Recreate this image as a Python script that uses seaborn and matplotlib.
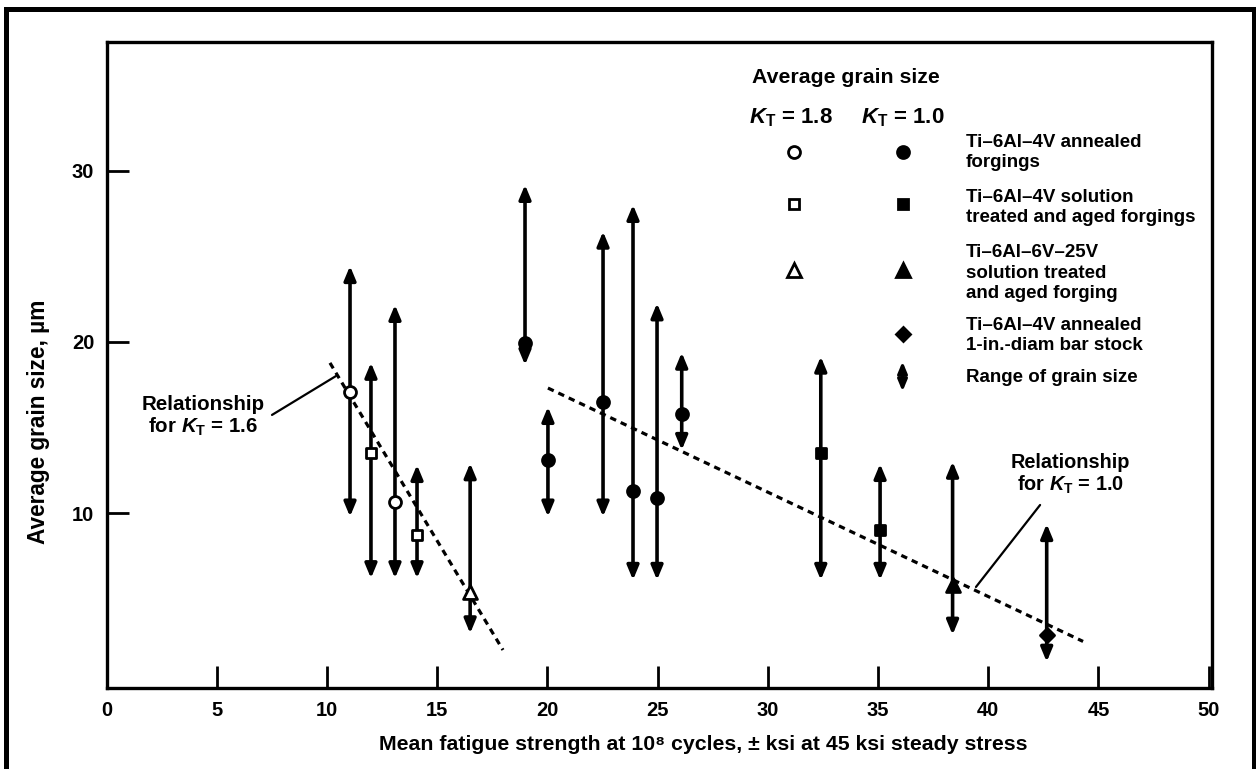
import numpy as np
import pandas as pd
import matplotlib
matplotlib.use("Agg")
import matplotlib.pyplot as plt
import seaborn as sns
from matplotlib.patches import Rectangle
from matplotlib.font_manager import fontManager

# ---------------- data ----------------
kt18_x = [11.04, 11.99, 13.08, 14.08, 16.49]
kt18_y = [17.09, 13.49, 10.66, 8.72, 5.40]
kt18_lo = [9.79, 6.19, 6.19, 6.19, 2.97]
kt18_hi = [24.43, 18.78, 22.16, 12.81, 12.91]
kt18_alloy = ["annealed", "sta", "annealed", "sta", "v25"]

kt10_x = [18.98, 20.02, 22.52, 23.88, 24.97, 26.09, 32.40, 35.09, 38.38, 42.65]
kt10_y = [19.94, 13.10, 16.50, 11.30, 10.86, 15.79, 13.49, 9.01, 5.80, 2.89]
kt10_lo = [18.65, 9.79, 9.79, 6.09, 6.09, 13.68, 6.09, 6.09, 2.89, 1.31]
kt10_hi = [29.17, 16.20, 26.44, 28.00, 22.25, 19.37, 19.14, 12.87, 13.00, 9.36]
kt10_alloy = ["annealed"] * 6 + ["sta", "sta", "v25", "bar"]

fit16_x = [10.13, 17.98]
fit16_y = [18.77, 2.00]
fit10_x = [20.02, 44.30]
fit10_y = [17.30, 2.50]

x_ticks = [0, 5, 10, 15, 20, 25, 30, 35, 40, 45, 50]
y_ticks = [10, 20, 30]

legend_labels = [
    "Ti\u20136Al\u20134V annealed\nforgings",
    "Ti\u20136Al\u20134V solution\ntreated and aged forgings",
    "Ti\u20136Al\u20136V\u201325V\nsolution treated\nand aged forging",
    "Ti\u20136Al\u20134V annealed\n1-in.-diam bar stock",
    "Range of grain size",
]

# ---------------- style ----------------
sns.set_theme(style="white")
names = {f.name for f in fontManager.ttflist}
fam = [f for f in ["Liberation Sans", "DejaVu Sans"] if f in names]
plt.rcParams["font.family"] = fam
plt.rcParams["font.weight"] = "bold"
plt.rcParams["text.color"] = "black"
plt.rcParams["axes.labelcolor"] = "black"
plt.rcParams["xtick.color"] = "black"
plt.rcParams["ytick.color"] = "black"
plt.rcParams["mathtext.fontset"] = "custom"
plt.rcParams["mathtext.rm"] = fam[0] + ":bold"
plt.rcParams["mathtext.it"] = fam[0] + ":italic:bold"
plt.rcParams["mathtext.bf"] = fam[0] + ":bold"

FS = 13.5
marker_map = {"annealed": "o", "sta": "s", "v25": "^", "bar": "D"}
msize = {"o": 8.6, "s": 7.6, "^": 10.0, "D": 7.2}

df = pd.concat([
    pd.DataFrame({"x": kt18_x, "y": kt18_y, "lo": kt18_lo, "hi": kt18_hi,
                  "alloy": kt18_alloy, "kt": "1.8"}),
    pd.DataFrame({"x": kt10_x, "y": kt10_y, "lo": kt10_lo, "hi": kt10_hi,
                  "alloy": kt10_alloy, "kt": "1.0"}),
], ignore_index=True)

fig = plt.figure(figsize=(12.56, 7.69), dpi=100)
W, H = 1256, 769
ax = fig.add_axes([106.7 / W, (H - 688) / H, (1212 - 106.7) / W, (688 - 41.7) / H])
ax.set_facecolor("white")

ax.set_xlim(0, 50.15)
ax.set_ylim(-0.22, 37.53)

# range arrows
arrow_style = "<|-|>,head_length=0.6,head_width=0.25"
for _, r in df.iterrows():
    ax.annotate("", xy=(r["x"], r["hi"]), xytext=(r["x"], r["lo"]),
                arrowprops=dict(arrowstyle=arrow_style, lw=2.6, color="black",
                                mutation_scale=14, shrinkA=0, shrinkB=0),
                zorder=3)

# fit lines
sns.lineplot(x=fit16_x, y=fit16_y, ax=ax, color="black", lw=2.3,
             linestyle=(0, (2.0, 1.6)), zorder=2)
sns.lineplot(x=fit10_x, y=fit10_y, ax=ax, color="black", lw=2.3,
             linestyle=(0, (2.0, 1.6)), zorder=2)

# markers
for (kt, alloy), sub in df.groupby(["kt", "alloy"]):
    m = marker_map[alloy]
    face = "white" if kt == "1.8" else "black"
    sns.scatterplot(data=sub, x="x", y="y", marker=m, s=msize[m] ** 2,
                    color=face, edgecolor="black", linewidth=2.0, ax=ax,
                    zorder=5, legend=False)

# spines and ticks
for s in ax.spines.values():
    s.set_visible(True)
    s.set_linewidth(2.4)
    s.set_color("black")
ax.set_xticks(x_ticks)
ax.set_yticks(y_ticks)
ax.tick_params(axis="both", direction="in", length=16, width=2.0, colors="black",
               labelsize=14.5, pad=9, bottom=True, left=True, top=False, right=False)
ax.set_xticklabels([str(t) for t in x_ticks], fontweight="bold")
ax.set_yticklabels([str(t) for t in y_ticks], fontweight="bold")
ax.grid(False)

ax.set_xlabel("Mean fatigue strength at 10\u2078 cycles, \u00b1 ksi at 45 ksi steady stress",
              fontsize=15.3, fontweight="bold")
ax.xaxis.set_label_coords(0.540, -0.072)
ax.set_ylabel("Average grain size, \u00b5m", fontsize=16.3, fontweight="bold")
ax.yaxis.set_label_coords(-0.051, 0.412)

# relationship annotations
ax.text(4.37, 15.64, "Relationship\nfor $K_\\mathrm{T}$ = 1.6", ha="center", va="center",
        multialignment="center", fontsize=14.8, fontweight="bold", linespacing=1.15)
ax.plot([7.50, 10.40], [15.73, 18.00], color="black", lw=1.6)
ax.text(43.71, 12.25, "Relationship\nfor $K_\\mathrm{T}$ = 1.0", ha="center", va="center",
        multialignment="center", fontsize=14.3, fontweight="bold", linespacing=1.15)
ax.plot([42.35, 39.44], [10.47, 5.68], color="black", lw=1.6)

# legend block (axes fraction)
tr = ax.transAxes
ax.text(0.584, 0.944, "Average grain size", transform=tr, ha="left", va="center",
        fontsize=15.3, fontweight="bold")
ax.text(0.619, 0.882, "$K_\\mathrm{T}$ = 1.8", transform=tr, ha="center", va="center",
        fontsize=16, fontweight="bold")
ax.text(0.720, 0.882, "$K_\\mathrm{T}$ = 1.0", transform=tr, ha="center", va="center",
        fontsize=16, fontweight="bold")
col1, col2 = 0.622, 0.720
rows = [0.829, 0.749, 0.647, 0.548]
row_markers = ["o", "s", "^", "D"]
for ry, m in zip(rows, row_markers):
    if m != "D":
        ax.plot([col1], [ry], marker=m, ms=msize[m], mfc="white", mec="black",
                mew=2.0, transform=tr, linestyle="none", zorder=5)
    ax.plot([col2], [ry], marker=m, ms=msize[m], mfc="black", mec="black",
            mew=2.0, transform=tr, linestyle="none", zorder=5)
ax.annotate("", xy=(col2, 0.505), xytext=(col2, 0.459), xycoords=tr, textcoords=tr,
            arrowprops=dict(arrowstyle=arrow_style, lw=2.4, color="black",
                            mutation_scale=11, shrinkA=0, shrinkB=0))
text_rows = [0.829, 0.743, 0.642, 0.545, 0.481]
for ty, lab in zip(text_rows, legend_labels):
    ax.text(0.777, ty, lab, transform=tr, ha="left", va="center",
            fontsize=FS, fontweight="bold", linespacing=1.25)

# outer frame of the figure
fig.patches.append(Rectangle((5.8 / W, -0.05), (1253.5 - 5.8) / W, 1.05 - 9.3 / H,
                             transform=fig.transFigure, fill=False, lw=3.6,
                             edgecolor="black", zorder=0))

fig.savefig("out.png", dpi=100, facecolor="white")
